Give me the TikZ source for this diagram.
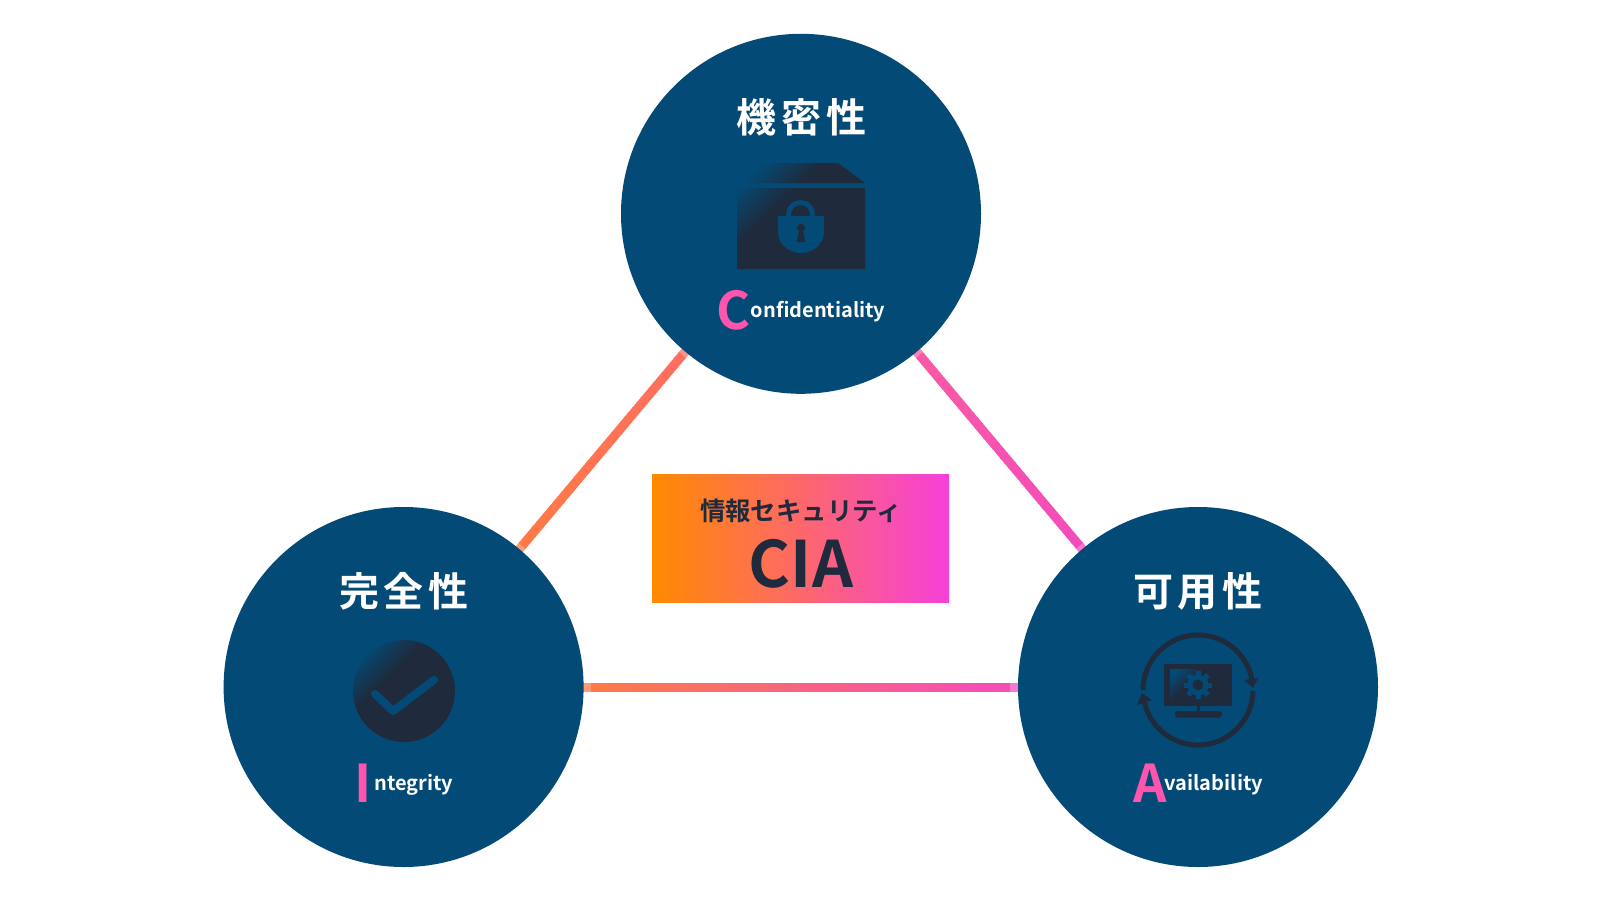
\documentclass[tikz,border=0pt]{standalone}
\usepackage{fontspec}
\setmainfont{Noto Sans CJK JP}[BoldFont={Noto Sans CJK JP Bold}]
\usetikzlibrary{calc}
\definecolor{disc}{HTML}{034A76}
\definecolor{ink}{HTML}{1F2A3C}
\definecolor{accent}{HTML}{FF55AE}
\definecolor{gorange}{HTML}{FF8A00}
\definecolor{gmid}{HTML}{FD686A}
\definecolor{gmagenta}{HTML}{F540DC}
\definecolor{linkA}{HTML}{FF7A45}
\definecolor{linkB}{HTML}{FF6E60}
\definecolor{linkC}{HTML}{FA5AA4}
\definecolor{linkD}{HTML}{F24CBC}
\pgfdeclarehorizontalshading{bannershade}{100bp}{
  color(0bp)=(gorange); color(25bp)=(gorange); color(50bp)=(gmid); color(75bp)=(gmagenta); color(100bp)=(gmagenta)}
\pgfdeclareverticalshading{iconshade}{100bp}{
  color(0bp)=(ink); color(60bp)=(ink); color(78bp)=(disc); color(100bp)=(disc)}
\tikzset{
  x=1pt,y=-1pt,
  pillar/.style={circle,fill=disc,minimum size=360pt,inner sep=0pt,draw=none},
  title/.style={font=\fontsize{40}{40}\bfseries\addfontfeatures{LetterSpace=11.5},text=white,inner sep=0pt},
  word/.style={font=\fontsize{20}{24}\bfseries,text=white,inner sep=0pt,anchor=base west},
  initial/.style={font=\fontsize{52}{52}\bfseries,text=accent,inner sep=0pt,anchor=base west},
  iconfill/.style={shading=iconshade,shading angle=45},
  ring/.style={draw=ink,line width=5pt},
  tip/.style={fill=ink,draw=none},
}
\newcommand{\seglink}[5]{% a b colA colB width
  \foreach \i in {0,...,39}{
    \pgfmathsetmacro{\ta}{\i/40}
    \pgfmathsetmacro{\tb}{min((\i+1.2)/40,1)}
    \pgfmathsetmacro{\mixv}{100*(\i+0.5)/40}
    \pgfmathsetmacro{\fadev}{(\i==0||\i==39)?72:100}
    \draw[line width=#5,color={#4!\mixv!#3}] ($(#1)!\ta!(#2)$) -- ($(#1)!\tb!(#2)$);
    \ifnum\i=0 \draw[line width=#5,color=white,opacity=0.25] ($(#1)!0!(#2)$) -- ($(#1)!0.02!(#2)$);\fi
    \ifnum\i=39 \draw[line width=#5,color=white,opacity=0.25] ($(#1)!0.98!(#2)$) -- ($(#1)!1!(#2)$);\fi
  }}
\begin{document}
\begin{tikzpicture}
\useasboundingbox (0,0) rectangle (1600,900);
\fill[white] (0,0) rectangle (1600,900);
\coordinate (ca) at (801,213.8);
\coordinate (ci) at (403.6,687);
\coordinate (av) at (1198,687);
% connectors, between the rims of the circles
\coordinate (la) at ($(ci)!179pt!(ca)$);
\coordinate (lb) at ($(ca)!179pt!(ci)$);
\coordinate (ra) at ($(ca)!179pt!(av)$);
\coordinate (rb) at ($(av)!179pt!(ca)$);
\coordinate (ba) at ($(ci)!179pt!(av)$);
\coordinate (bb) at ($(av)!179pt!(ci)$);
\seglink{la}{lb}{linkA}{linkB}{9pt}
\seglink{ra}{rb}{linkC}{linkD}{9pt}
\seglink{ba}{bb}{linkA}{linkD}{9pt}
% circles
\node[pillar] (conf) at (ca) {};
\node[pillar] (inte) at (ci) {};
\node[pillar] (avail) at (av) {};
% banner
\node[minimum width=297pt,minimum height=128.5pt,inner sep=0pt,shading=bannershade,shading angle=0] (banner) at (800.5,538.3) {};
\node[font=\fontsize{25.4}{25.4}\bfseries,text=ink,inner sep=0pt,anchor=base] (bannertop) at (801,520) {情報セキュリティ};
\node[font=\fontsize{64}{64}\bfseries,text=ink,inner sep=0pt,anchor=base] (bannercia) at (801,587) {CIA};
% titles
\node[title,anchor=base] (t1) at (801.5,132.5) {機密性};
\node[title,anchor=base] (t2) at (404,606) {完全性};
\node[title,anchor=base] (t3) at (1198,606) {可用性};
% box icon
\begin{scope}
\clip (763,163) -- (838,163) -- (865,183) -- (737,183) -- cycle (737,188) rectangle (865,269);
\path[iconfill] (737,163) rectangle (865,269);
\end{scope}
\draw[disc,line width=5pt] (788.5,218) -- (788.5,214.5) arc[start angle=180,end angle=360,radius=12] -- (812.5,218);
\fill[disc] (778,216) -- (824,216) -- (824,232) arc[start angle=0,end angle=180,x radius=23,y radius=21] -- cycle;
\fill[ink] (801,228) circle[radius=4];
\fill[ink] (799.5,229) -- (802.5,229) -- (805.5,242) -- (796.5,242) -- cycle;
% check icon
\path[iconfill] (404,691) circle[radius=51];
\draw[disc,line width=8pt,line cap=round,line join=round] (375,694) -- (393,711) -- (434,680);
% availability icon
\draw[ring] (1143,690) arc[start angle=180,end angle=350,radius=55];
\draw[ring] (1253,691) arc[start angle=1,end angle=170,radius=55];
\fill[ink] (1164,664) rectangle (1232,706);
\path[iconfill] (1170,669) rectangle (1228,701);
\fill[ink] (1196.5,706) rectangle (1200,713);
\fill[ink,rounded corners=3pt] (1175,711) rectangle (1222,717.5);
\fill[tip] (1244,680) -- (1258,678) -- (1253,688) -- cycle;
\fill[tip] (1137,705) -- (1152,700) -- (1142,693) -- cycle;
\fill[disc] (1198,685) circle[radius=10.5];
\foreach \a in {0,45,...,315}{
  \fill[disc,rotate around={\a:(1198,685)}] (1195.5,671) rectangle (1200.5,680);
}
\fill[ink] (1198,685) circle[radius=5.5];
% labels
\node[initial] (c1) at (716.5,329) {C};
\node[word] (c2) at (750.5,317) {onfidentiality};
\node[initial] (i1) at (354,802) {I};
\node[word] (i2) at (374,790) {ntegrity};
\node[initial] (a1) at (1133.5,802) {A};
\node[word] (a2) at (1164.5,790) {vailability};
\end{tikzpicture}
\end{document}
